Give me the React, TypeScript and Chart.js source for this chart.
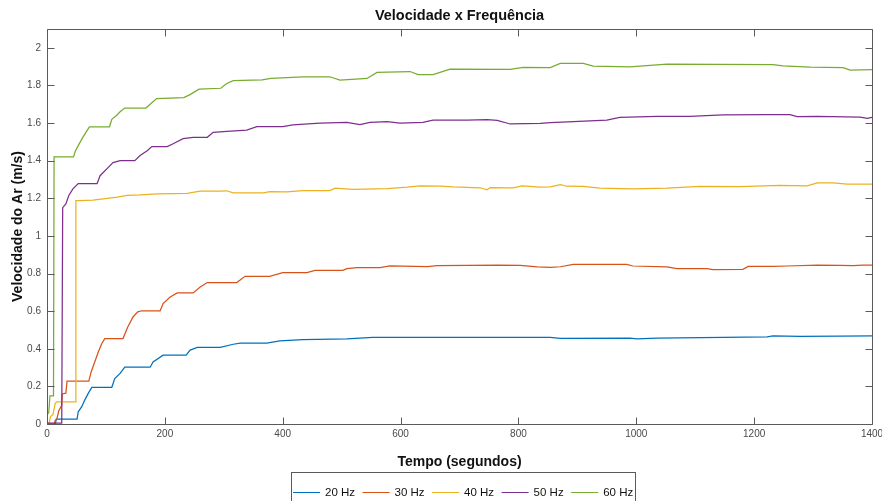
import React, { useEffect, useRef } from 'react';
import { Chart, registerables } from 'chart.js';

Chart.register(...registerables);

// ---------- data ----------
const chartTitle = 'Velocidade x Frequência';
const xTitle = 'Tempo (segundos)';
const yTitle = 'Velocidade do Ar (m/s)';

const seriesLabels = ['20 Hz', '30 Hz', '40 Hz', '50 Hz', '60 Hz'];
const seriesColors = ['#0072BD', '#D95319', '#EDB120', '#7E2F8E', '#77AC30'];

const xTicks = [0, 200, 400, 600, 800, 1000, 1200, 1400];
const yTicks = [0, 0.2, 0.4, 0.6, 0.8, 1, 1.2, 1.4, 1.6, 1.8, 2];

const t20 = [0, 14, 16, 51, 53, 59, 64, 70, 76, 110, 115, 124, 132, 175, 180, 197, 236, 243, 255, 294, 316, 328, 373, 395, 434, 509, 553, 854, 871, 989, 1001, 1035, 1222, 1232, 1278, 1346, 1400];
const v20 = [0, 0, 0.026, 0.026, 0.065, 0.092, 0.127, 0.163, 0.195, 0.195, 0.242, 0.269, 0.302, 0.302, 0.33, 0.366, 0.366, 0.393, 0.407, 0.407, 0.424, 0.43, 0.43, 0.442, 0.449, 0.452, 0.46, 0.46, 0.455, 0.456, 0.453, 0.456, 0.463, 0.468, 0.466, 0.467, 0.468];

const t30 = [0, 12, 14, 17, 20, 25, 26, 32, 34, 71, 75, 81, 87, 93, 98, 129, 137, 146, 154, 161, 192, 197, 209, 221, 248, 260, 272, 322, 336, 378, 400, 441, 455, 502, 509, 526, 565, 582, 645, 662, 764, 803, 832, 854, 871, 893, 984, 994, 1052, 1069, 1120, 1130, 1181, 1190, 1232, 1256, 1307, 1346, 1368, 1385, 1400];
const v30 = [0, 0, 0.02, 0.03, 0.07, 0.1, 0.16, 0.164, 0.228, 0.228, 0.278, 0.33, 0.383, 0.428, 0.454, 0.454, 0.516, 0.569, 0.596, 0.602, 0.602, 0.64, 0.675, 0.697, 0.697, 0.728, 0.752, 0.752, 0.785, 0.785, 0.805, 0.805, 0.817, 0.817, 0.826, 0.831, 0.831, 0.84, 0.837, 0.842, 0.845, 0.843, 0.835, 0.833, 0.836, 0.849, 0.849, 0.84, 0.835, 0.826, 0.826, 0.821, 0.822, 0.838, 0.838, 0.84, 0.845, 0.843, 0.842, 0.844, 0.844];

const t40 = [0, 4, 6, 10, 14, 17, 48, 49, 56, 78, 102, 119, 136, 158, 187, 238, 260, 294, 305, 316, 367, 378, 407, 434, 480, 489, 519, 577, 611, 633, 667, 689, 735, 747, 752, 791, 806, 837, 854, 871, 882, 910, 938, 994, 1052, 1108, 1176, 1244, 1290, 1307, 1334, 1358, 1400];
const v40 = [0, 0.01, 0.04, 0.05, 0.11, 0.118, 0.118, 1.188, 1.188, 1.19, 1.2, 1.206, 1.215, 1.218, 1.224, 1.226, 1.238, 1.238, 1.24, 1.229, 1.229, 1.236, 1.234, 1.241, 1.241, 1.254, 1.248, 1.252, 1.259, 1.266, 1.265, 1.261, 1.256, 1.245, 1.257, 1.256, 1.266, 1.259, 1.261, 1.273, 1.264, 1.263, 1.254, 1.25, 1.254, 1.263, 1.262, 1.268, 1.266, 1.282, 1.282, 1.275, 1.275];

const t50 = [0, 25, 26.6, 32, 37, 44, 53, 85, 90, 102, 112, 124, 149, 158, 170, 178, 204, 214, 231, 248, 272, 282, 305, 339, 356, 400, 417, 463, 509, 531, 548, 577, 599, 638, 655, 713, 747, 764, 786, 837, 854, 893, 950, 972, 1035, 1091, 1147, 1222, 1261, 1273, 1307, 1380, 1392, 1400];
const v50 = [0.005, 0.005, 1.15, 1.17, 1.215, 1.25, 1.278, 1.278, 1.32, 1.358, 1.39, 1.4, 1.4, 1.427, 1.453, 1.475, 1.475, 1.49, 1.517, 1.524, 1.524, 1.551, 1.556, 1.563, 1.581, 1.581, 1.59, 1.599, 1.604, 1.592, 1.604, 1.607, 1.6, 1.604, 1.616, 1.616, 1.618, 1.614, 1.595, 1.598, 1.602, 1.607, 1.616, 1.63, 1.636, 1.636, 1.643, 1.645, 1.645, 1.634, 1.635, 1.632, 1.625, 1.63];

const t60 = [0, 3, 5, 11, 12, 45, 48, 53, 60, 66, 72, 106, 110, 118, 124, 132, 168, 175, 186, 232, 242, 258, 295, 305, 316, 365, 380, 434, 480, 497, 543, 560, 616, 630, 655, 684, 786, 808, 854, 871, 910, 927, 989, 1052, 1232, 1249, 1295, 1351, 1363, 1400];
const v60 = [0.05, 0.06, 0.15, 0.15, 1.42, 1.42, 1.45, 1.48, 1.52, 1.55, 1.58, 1.58, 1.62, 1.64, 1.66, 1.68, 1.68, 1.7, 1.73, 1.735, 1.75, 1.78, 1.785, 1.81, 1.825, 1.83, 1.837, 1.846, 1.846, 1.828, 1.837, 1.869, 1.874, 1.857, 1.857, 1.887, 1.885, 1.896, 1.895, 1.917, 1.917, 1.903, 1.898, 1.913, 1.91, 1.904, 1.897, 1.895, 1.881, 1.884];

const seriesT = [t20, t30, t40, t50, t60];
const seriesV = [v20, v30, v40, v50, v60];

// ---------- styling ----------
const FONT = '"Liberation Sans", Arial, Helvetica, sans-serif';
const AXIS_COLOR = '#5a5a5a';
const TICK_TEXT = '#4a4a4a';
const TICK_LEN = 7;

const framePlugin = {
  id: 'matlabFrame',
  afterDatasetsDraw(chart: any) {
    const { ctx, chartArea: a, scales } = chart;
    const xs = scales.x;
    const ys = scales.y;
    ctx.save();
    ctx.strokeStyle = AXIS_COLOR;
    ctx.lineWidth = 1;
    const L = Math.round(a.left) + 0.5;
    const R = Math.round(a.right) + 0.5;
    const T = Math.round(a.top) + 0.5;
    const B = Math.round(a.bottom) + 0.5;
    ctx.beginPath();
    ctx.rect(L, T, R - L, B - T);
    xs.ticks.forEach((tk: any) => {
      const p = Math.round(xs.getPixelForValue(tk.value)) + 0.5;
      ctx.moveTo(p, B);
      ctx.lineTo(p, B - TICK_LEN);
      ctx.moveTo(p, T);
      ctx.lineTo(p, T + TICK_LEN);
    });
    ys.ticks.forEach((tk: any) => {
      const p = Math.round(ys.getPixelForValue(tk.value)) + 0.5;
      ctx.moveTo(L, p);
      ctx.lineTo(L + TICK_LEN, p);
      ctx.moveTo(R, p);
      ctx.lineTo(R - TICK_LEN, p);
    });
    ctx.stroke();

    // title
    ctx.fillStyle = '#111';
    ctx.font = `bold 14.5px ${FONT}`;
    ctx.textAlign = 'center';
    ctx.textBaseline = 'middle';
    ctx.fillText(chartTitle, (a.left + a.right) / 2, 16);

    // legend
    ctx.font = `11.5px ${FONT}`;
    ctx.textAlign = 'left';
    const legLeft = 291;
    const legY = 492;
    let x = legLeft + 2;
    const items = chart.data.datasets.map((ds: any) => ({ label: ds.label, color: ds.borderColor }));
    let lastEnd = x;
    items.forEach((it: any) => {
      ctx.strokeStyle = it.color;
      ctx.beginPath();
      ctx.moveTo(x, legY + 0.5);
      ctx.lineTo(x + 27, legY + 0.5);
      ctx.stroke();
      ctx.fillStyle = '#111';
      const tx = x + 32;
      ctx.fillText(it.label, tx, legY + 1);
      const w = ctx.measureText(it.label).width;
      lastEnd = tx + w;
      x = tx + w + 7.5;
    });
    ctx.strokeStyle = AXIS_COLOR;
    ctx.strokeRect(legLeft + 0.5, 472.5, Math.round(lastEnd + 2 - legLeft), 40);
    ctx.restore();
  },
};

export default function App() {
  const ref = useRef<HTMLCanvasElement | null>(null);
  useEffect(() => {
    if (!ref.current) return;
    const datasets = seriesLabels.map((label, i) => ({
      label,
      data: seriesT[i].map((t, k) => ({ x: t, y: seriesV[i][k] })),
      borderColor: seriesColors[i],
      backgroundColor: seriesColors[i],
      borderWidth: 1.25,
      pointRadius: 0,
      tension: 0,
      fill: false,
      order: seriesLabels.length - i,
    }));
    const chart = new Chart(ref.current, {
      type: 'line',
      data: { datasets },
      options: {
        animation: false,
        responsive: false,
        devicePixelRatio: 1,
        layout: { padding: { top: 29, right: 10, left: 0, bottom: 0 } },
        plugins: { legend: { display: false }, title: { display: false }, tooltip: { enabled: false } },
        scales: {
          x: {
            type: 'linear',
            min: 0,
            max: 1400,
            grid: { display: false, drawTicks: false },
            border: { display: false },
            ticks: {
              autoSkip: false,
              maxRotation: 0,
              padding: 4,
              color: TICK_TEXT,
              font: { family: FONT, size: 10 },
              callback: (v: any) => String(v),
            },
            afterBuildTicks: (s: any) => {
              s.ticks = xTicks.map((v) => ({ value: v }));
            },
            afterFit: (s: any) => {
              s.height = 77;
              s.paddingLeft = 0;
              s.paddingRight = 0;
            },
            title: {
              display: true,
              text: xTitle,
              color: '#111',
              font: { family: FONT, size: 14, weight: 'bold' },
              padding: { top: 0, bottom: 30.6 },
            },
          },
          y: {
            type: 'linear',
            min: 0,
            max: 2.1,
            grid: { display: false, drawTicks: false },
            border: { display: false },
            ticks: {
              autoSkip: false,
              padding: 6,
              color: TICK_TEXT,
              font: { family: FONT, size: 10 },
              callback: (v: any) => String(Math.round(v * 10) / 10),
            },
            afterBuildTicks: (s: any) => {
              s.ticks = yTicks.map((v) => ({ value: v }));
            },
            afterFit: (s: any) => {
              s.width = 47;
              s.paddingTop = 0;
              s.paddingBottom = 0;
            },
            title: {
              display: true,
              text: yTitle,
              color: '#111',
              font: { family: FONT, size: 14, weight: 'bold' },
              padding: { top: 10, bottom: 0 },
            },
          },
        },
      },
      plugins: [framePlugin],
    });
    return () => chart.destroy();
  }, []);
  return (
    <div style={{ position: 'fixed', left: 0, top: 0, width: 882, height: 501, background: '#fff' }}>
      <canvas ref={ref} width={882} height={501} style={{ display: 'block', width: 882, height: 501 }} />
    </div>
  );
}
